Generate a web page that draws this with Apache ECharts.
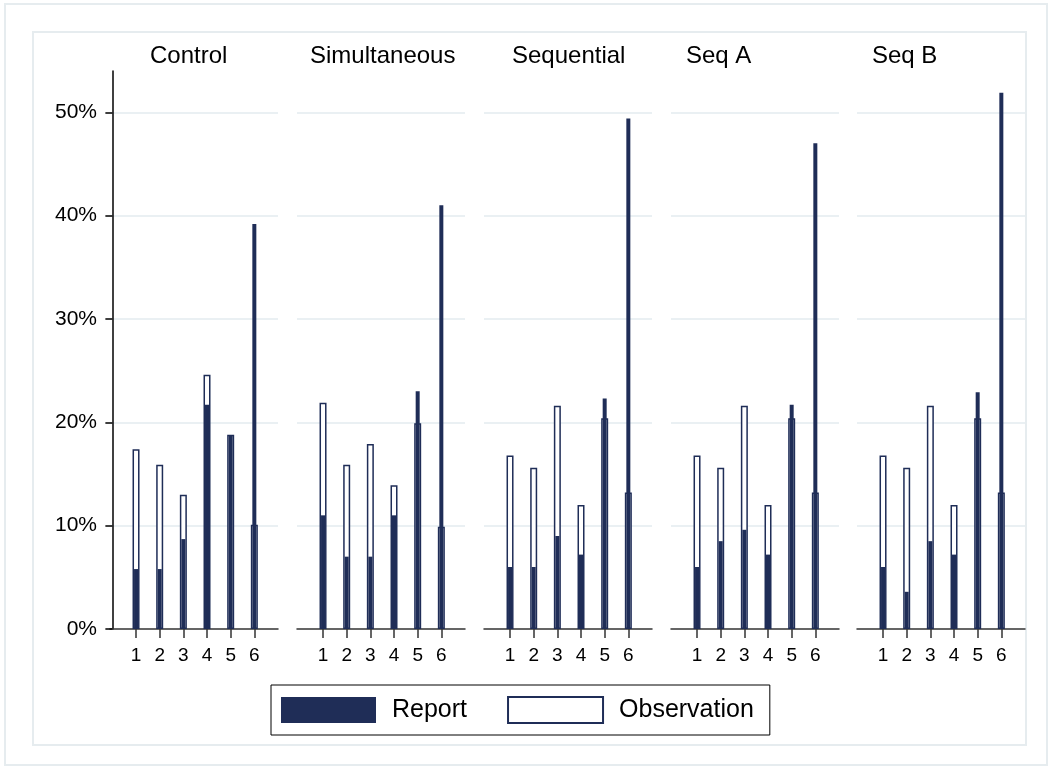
<!DOCTYPE html>
<html>
<head>
<meta charset="utf-8">
<script src="https://cdn.jsdelivr.net/npm/echarts@6/dist/echarts.min.js"></script>
<style>
html,body{margin:0;padding:0;background:#fff;}
#chart{width:1052px;height:769px;}
</style>
</head>
<body>
<div id="chart"></div>
<script>
const panels = ['Control', 'Simultaneous', 'Sequential', 'Seq A', 'Seq B'];
const categories = [1, 2, 3, 4, 5, 6];
const yTicks = [0, 10, 20, 30, 40, 50];

const reportControl = [5.8, 5.8, 8.7, 21.7, 18.7, 39.2];
const obsControl    = [17.4, 15.9, 13.0, 24.6, 18.8, 10.1];
const reportSimul   = [11.0, 7.0, 7.0, 11.0, 23.0, 41.0];
const obsSimul      = [21.9, 15.9, 17.9, 13.9, 19.9, 9.9];
const reportSeq     = [6.0, 6.0, 9.0, 7.2, 22.3, 49.4];
const obsSeq        = [16.8, 15.6, 21.6, 12.0, 20.4, 13.2];
const reportSeqA    = [6.0, 8.5, 9.6, 7.2, 21.7, 47.0];
const obsSeqA       = [16.8, 15.6, 21.6, 12.0, 20.4, 13.2];
const reportSeqB    = [6.0, 3.6, 8.5, 7.2, 22.9, 51.9];
const obsSeqB       = [16.8, 15.6, 21.6, 12.0, 20.4, 13.2];

const reports = [reportControl, reportSimul, reportSeq, reportSeqA, reportSeqB];
const observations = [obsControl, obsSimul, obsSeq, obsSeqA, obsSeqB];

const NAVY = '#1f2d57';
const FONT = 'Liberation Sans, Arial, sans-serif';
const gridLefts = [110, 297, 484, 671, 857];
const titleLefts = [150, 310, 512, 686, 872];
const gridW = 168, gridTop = 71, gridBottomY = 629;

const grid = [], xAxis = [], yAxis = [], series = [], title = [];
panels.forEach((p, i) => {
  grid.push({left: gridLefts[i], top: gridTop, width: gridW, height: gridBottomY - gridTop});
  title.push({text: p, left: titleLefts[i], top: 44, padding: 0,
    textStyle: {fontFamily: FONT, fontSize: 24, fontWeight: 'normal', color: '#000'}});
  xAxis.push({
    type: 'value', gridIndex: i, min: -0.1, max: 7.0,
    axisLine: {show: true, onZero: false, lineStyle: {color: '#333', width: 1.5}},
    axisTick: {show: true, length: 9, customValues: categories, lineStyle: {color: '#333', width: 1.5}},
    axisLabel: {show: true, customValues: categories, margin: 17, fontFamily: FONT, fontSize: 19, color: '#000'},
    splitLine: {show: false}
  });
  xAxis.push({
    type: 'value', gridIndex: i, min: -0.1, max: 7.0, show: false
  });
  yAxis.push({
    type: 'value', gridIndex: i, min: 0, max: 54,
    axisLine: {show: i === 0, lineStyle: {color: '#000', width: 1.5}},
    axisTick: {show: i === 0, length: 7, customValues: yTicks, lineStyle: {color: '#000', width: 1.5}},
    axisLabel: {show: i === 0, customValues: yTicks, margin: 13, fontFamily: FONT, fontSize: 21, color: '#000',
      formatter: v => v + '%'},
    splitLine: {show: false}
  });
  // gridlines behind the bars
  series.push({
    type: 'line', xAxisIndex: 2 * i, yAxisIndex: i, data: [], z: 0, silent: true,
    markLine: {silent: true, z: 0, symbol: 'none', label: {show: false},
      lineStyle: {color: '#eaf0f3', width: 2, type: 'solid'},
      data: yTicks.filter(v => v > 0).map(v => ({yAxis: v}))}
  });
  series.push({
    name: 'Observation', type: 'bar', xAxisIndex: 2 * i, yAxisIndex: i, barWidth: 7, z: 2,
    itemStyle: {color: '#fff', borderColor: NAVY, borderWidth: 1.5},
    data: categories.map((c, k) => [c, observations[i][k]])
  });
  series.push({
    name: 'Report', type: 'bar', xAxisIndex: 2 * i + 1, yAxisIndex: i, barWidth: 4, z: 3,
    itemStyle: {color: NAVY},
    data: categories.map((c, k) => [c, reports[i][k]])
  });
});

const option = {
  animation: false,
  backgroundColor: '#fff',
  title,
  grid, xAxis, yAxis, series,
  legend: {
    data: ['Report', 'Observation'],
    left: 271, top: 685, orient: 'horizontal',
    padding: [11, 16, 11, 10],
    itemWidth: 95, itemHeight: 26, itemGap: 40,
    borderColor: '#000', borderWidth: 1,
    icon: 'rect',
    selectedMode: false,
    textStyle: {fontFamily: FONT, fontSize: 25, color: '#000', padding: [0, 0, 0, 11]}
  },
  graphic: [
    {type: 'rect', shape: {x: 5, y: 4, width: 1042, height: 761}, style: {fill: 'none', stroke: '#e6ecef', lineWidth: 2}, silent: true},
    {type: 'rect', shape: {x: 33, y: 32, width: 993, height: 713}, style: {fill: 'none', stroke: '#e6ecef', lineWidth: 2}, silent: true}
  ]
};

const chart = echarts.init(document.getElementById('chart'));
chart.setOption(option);
</script>
</body>
</html>
